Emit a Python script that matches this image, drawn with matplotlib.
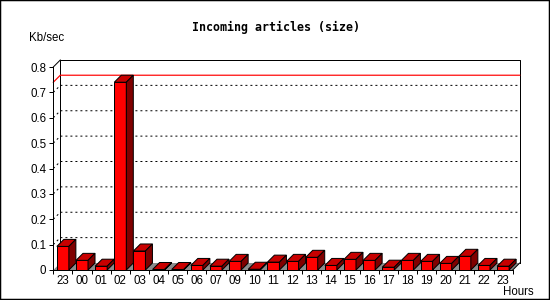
import matplotlib
matplotlib.use("Agg")
import matplotlib.pyplot as plt
from matplotlib.patches import Polygon, Rectangle
from matplotlib.ticker import FixedLocator, FixedFormatter

# ---- data ----
hours = ["23", "00", "01", "02", "03", "04", "05", "06", "07", "09", "10", "11",
         "12", "13", "14", "15", "16", "17", "18", "19", "20", "21", "22", "23"]
kb_per_sec = [0.093, 0.038, 0.015, 0.740, 0.075, 0.002, 0.002, 0.018, 0.015, 0.034, 0.003, 0.031,
              0.034, 0.050, 0.018, 0.042, 0.038, 0.011, 0.038, 0.034, 0.026, 0.054, 0.018, 0.015]
y_ticks = [0, 0.1, 0.2, 0.3, 0.4, 0.5, 0.6, 0.7, 0.8]
y_tick_labels = ["0", "0.1", "0.2", "0.3", "0.4", "0.5", "0.6", "0.7", "0.8"]
title = "Incoming articles (size)"
y_title = "Kb/sec"
x_title = "Hours"

# ---- style ----
W, H, DPI = 550, 300, 100
PX = 72.0 / DPI  # one pixel in points
front_col = "#ff0000"
top_col = "#c80000"
side_col = "#800000"
floor_col = "#8c8c8c"
small_font = dict(family="Liberation Sans", size=8.3)

fig = plt.figure(figsize=(W / DPI, H / DPI), dpi=DPI)
fig.patch.set_facecolor("white")

ax_left, ax_right, ax_top, ax_bottom = 53.3, 512.7, 67.0, 270.0
ax = fig.add_axes([ax_left / W, (H - ax_bottom) / H,
                   (ax_right - ax_left) / W, (ax_bottom - ax_top) / H])
n = len(hours)
ax.set_xlim(-0.5, n - 0.5)
ax.set_ylim(y_ticks[0], y_ticks[-1])
ax.patch.set_visible(False)

# depth offsets (pixels -> data units)
depth_x_px, depth_y_px = 7.0, 7.0
dx = depth_x_px * (n) / (ax_right - ax_left)
dy = depth_y_px * (y_ticks[-1] - y_ticks[0]) / (ax_bottom - ax_top)
x0, x1 = -0.5, n - 0.5
ymax = y_ticks[-1]
lw = PX

# floor
ax.add_patch(Polygon([(x0, 0), (x1, 0), (x1 + dx, dy), (x0 + dx, dy)],
                     closed=True, facecolor=floor_col, edgecolor="none",
                     zorder=1, clip_on=False))

# dotted gridlines (slant + back plane)
for v in y_ticks[1:-1]:
    ax.plot([x0, x0 + dx, x1 + dx], [v, v + dy, v + dy], color="black",
            lw=lw, linestyle=(0, (2, 3)), zorder=1.5, clip_on=False,
            solid_capstyle="butt", dash_capstyle="butt")

# back plane frame
ax.plot([x0 + dx, x0 + dx, x1 + dx, x1 + dx], [dy, ymax + dy, ymax + dy, dy],
        color="black", lw=lw, zorder=1.6, clip_on=False)
ax.plot([x0, x0 + dx], [ymax, ymax + dy], color="black", lw=lw, zorder=1.6, clip_on=False)
ax.plot([x1, x1 + dx], [0, dy], color="black", lw=lw, zorder=1.6, clip_on=False)

# max line
vmax = max(kb_per_sec)
ax.plot([x0, x0 + dx, x1 + dx], [vmax, vmax + dy, vmax + dy], color="red",
        lw=1.2 * lw, zorder=1.7, clip_on=False)

# bars
bw = 0.627
xs = list(range(n))
ax.bar(xs, kb_per_sec, width=bw, color=front_col, edgecolor="black",
       linewidth=lw, zorder=3, clip_on=False)
for i, v in zip(xs, kb_per_sec):
    l, r = i - bw / 2, i + bw / 2
    ax.add_patch(Polygon([(l, v), (r, v), (r + dx, v + dy), (l + dx, v + dy)],
                         closed=True, facecolor=top_col, edgecolor="black",
                         linewidth=lw, zorder=3, clip_on=False))
    ax.add_patch(Polygon([(r, 0), (r + dx, dy), (r + dx, v + dy), (r, v)],
                         closed=True, facecolor=side_col, edgecolor="black",
                         linewidth=lw, zorder=3, clip_on=False))

# axes spines & ticks
for s in ["top", "right"]:
    ax.spines[s].set_visible(False)
for s in ["left", "bottom"]:
    ax.spines[s].set_linewidth(lw)
    ax.spines[s].set_zorder(4)

ax.yaxis.set_major_locator(FixedLocator(y_ticks))
ax.yaxis.set_major_formatter(FixedFormatter(y_tick_labels))
ax.tick_params(axis="y", direction="out", length=4 * PX, width=lw, pad=3 * PX,
               labelsize=small_font["size"])
ax.xaxis.set_major_locator(FixedLocator(xs))
ax.xaxis.set_major_formatter(FixedFormatter(hours))
ax.xaxis.set_minor_locator(FixedLocator([i + 0.5 for i in range(-1, n)]))
ax.tick_params(axis="x", which="major", length=0, pad=5 * PX, labelsize=small_font["size"])
ax.tick_params(axis="x", which="minor", direction="out", length=4 * PX, width=lw)
for t in ax.get_xticklabels() + ax.get_yticklabels():
    t.set_fontfamily(small_font["family"])

# texts
fig.text(275.5 / W, 1 - 27.3 / H, title, ha="center", va="center",
         family="DejaVu Sans Mono", weight="bold", size=8.4)
fig.text(29.3 / W, 1 - 38.3 / H, y_title, ha="left", va="center", **small_font)
fig.text(533.3 / W, 1 - 291.7 / H, x_title, ha="right", va="center", **small_font)

# outer frame
fig.add_artist(Rectangle((0, 0), 1, 1, transform=fig.transFigure, fill=False,
                         edgecolor="black", linewidth=2.5 * PX))

fig.savefig("out.png", dpi=DPI)
